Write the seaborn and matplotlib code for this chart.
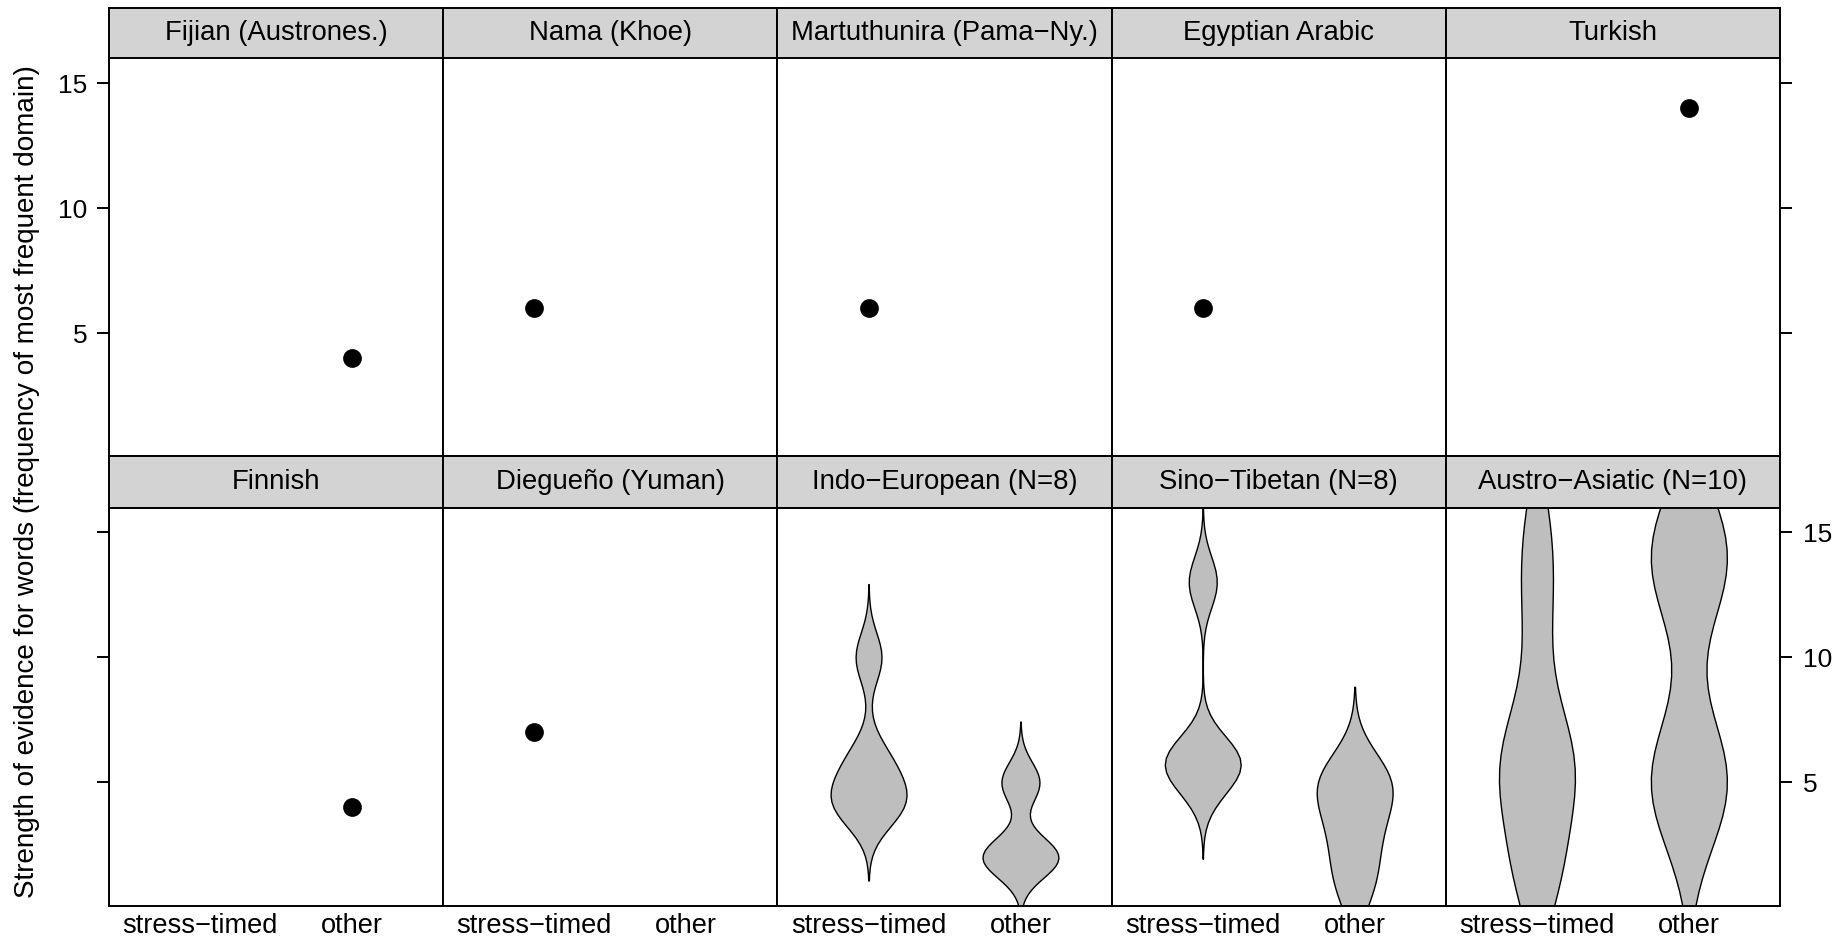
import numpy as np
import pandas as pd
import matplotlib
matplotlib.use("Agg")
import matplotlib.pyplot as plt
import seaborn as sns

sns.set_theme(style="white")
plt.rcParams['font.family'] = ['Liberation Sans', 'DejaVu Sans']

# ---------------- data ----------------
categories = ["stress−timed", "other"]

panel_titles = [
    "Fijian (Austrones.)", "Nama (Khoe)", "Martuthunira (Pama−Ny.)", "Egyptian Arabic", "Turkish",
    "Finnish", "Diegueño (Yuman)", "Indo−European (N=8)", "Sino−Tibetan (N=8)", "Austro−Asiatic (N=10)",
]

# single languages
fijian_stress, fijian_other = [], [4]
nama_stress, nama_other = [6], []
martuthunira_stress, martuthunira_other = [6], []
egyptian_stress, egyptian_other = [6], []
turkish_stress, turkish_other = [], [14]
finnish_stress, finnish_other = [], [4]
diegueno_stress, diegueno_other = [7], []

# families (values of the member languages)
ie_stress = [4, 4, 5, 6, 10]
ie_other = [2, 2, 5]
st_stress = [5, 6, 6, 13]
st_other = [1, 3, 5, 5]
aa_stress = [1, 2, 5, 5, 6, 8, 12, 15]
aa_other = [5, 14]

panel_data = [
    (fijian_stress, fijian_other), (nama_stress, nama_other),
    (martuthunira_stress, martuthunira_other), (egyptian_stress, egyptian_other),
    (turkish_stress, turkish_other), (finnish_stress, finnish_other),
    (diegueno_stress, diegueno_other), (ie_stress, ie_other),
    (st_stress, st_other), (aa_stress, aa_other),
]

y_ticks = [5, 10, 15]
y_label = "Strength of evidence for words (frequency of most frequent domain)"

# ---------------- style ----------------
violin_fill = "#bebebe"
strip_fill = "#d3d3d3"
FS_STRIP = 19.8
FS_TICK = 19
FS_XLAB = 19.6
FS_YLAB = 20.1
LW = 1.4


def nrd0(x):
    x = np.asarray(x, float)
    hi = np.std(x, ddof=1)
    q75, q25 = np.percentile(x, [75, 25])
    lo = min(hi, (q75 - q25) / 1.34)
    if lo == 0:
        lo = hi if hi > 0 else 1.0
    return 0.9 * lo * len(x) ** -0.2


def draw_group(ax, cat, vals):
    if len(vals) == 0:
        return
    df = pd.DataFrame({"cond": [cat] * len(vals), "value": vals})
    if len(vals) == 1:
        sns.stripplot(data=df, x="cond", y="value", order=categories, jitter=False,
                      color="black", size=13.5, linewidth=0, ax=ax)
    else:
        sd = np.std(vals, ddof=1)
        sns.violinplot(data=df, x="cond", y="value", order=categories,
                       bw_method=nrd0(vals) / sd, cut=3, gridsize=50, width=0.5,
                       density_norm="width", inner=None, color=violin_fill,
                       linecolor="black", linewidth=1.0, saturation=1, ax=ax)


W, H = 1837, 940
fig = plt.figure(figsize=(W / 100, H / 100), dpi=100)
fig.patch.set_facecolor("white")

left_px, right_px = 109, 1780
pw = (right_px - left_px) / 5
top_px = 7.5
strip_h = 51
panel_h = 398

for i, (title, (sv, ov)) in enumerate(zip(panel_titles, panel_data)):
    r, c = divmod(i, 5)
    x0 = left_px + c * pw
    y0 = top_px + r * (strip_h + panel_h)
    sax = fig.add_axes([x0 / W, 1 - (y0 + strip_h) / H, pw / W, strip_h / H])
    sax.set_facecolor(strip_fill)
    sax.set_xticks([])
    sax.set_yticks([])
    for sp in sax.spines.values():
        sp.set_color("black")
        sp.set_linewidth(LW)
    sax.text(0.5, 0.5, title, ha="center", va="center", fontsize=FS_STRIP,
             transform=sax.transAxes, color="black")

    ax = fig.add_axes([x0 / W, 1 - (y0 + strip_h + panel_h) / H, pw / W, panel_h / H])
    ax.set_facecolor("white")
    draw_group(ax, categories[0], sv)
    draw_group(ax, categories[1], ov)
    ax.set_xlim(-0.6, 1.6)
    ax.set_ylim(0.08, 15.98)
    ax.set_xlabel("")
    ax.set_ylabel("")
    ax.grid(False)
    for sp in ax.spines.values():
        sp.set_visible(True)
        sp.set_color("black")
        sp.set_linewidth(LW)
    ax.set_yticks(y_ticks)
    ax.set_yticklabels([str(t) for t in y_ticks])
    ax.tick_params(axis="y", which="both", direction="out", length=8.5, width=LW,
                   labelsize=FS_TICK, colors="black",
                   left=(c == 0), right=(c == 4),
                   labelleft=(c == 0 and r == 0), labelright=(c == 4 and r == 1))
    if c == 0:
        ax.tick_params(axis="y", pad=7)
    if c == 4:
        ax.tick_params(axis="y", pad=8)
    ax.set_xticks([0, 1])
    if r == 1:
        ax.set_xticklabels(categories)
        ax.tick_params(axis="x", length=0, pad=5.5, labelsize=FS_XLAB, colors="black",
                       bottom=True, labelbottom=True)
    else:
        ax.tick_params(axis="x", length=0, bottom=False, labelbottom=False)

fig.text(27 / W, 1 - 481.5 / H, y_label, rotation=90, ha="center", va="center",
         fontsize=FS_YLAB, color="black")

fig.savefig("out.png", dpi=100, facecolor="white")
